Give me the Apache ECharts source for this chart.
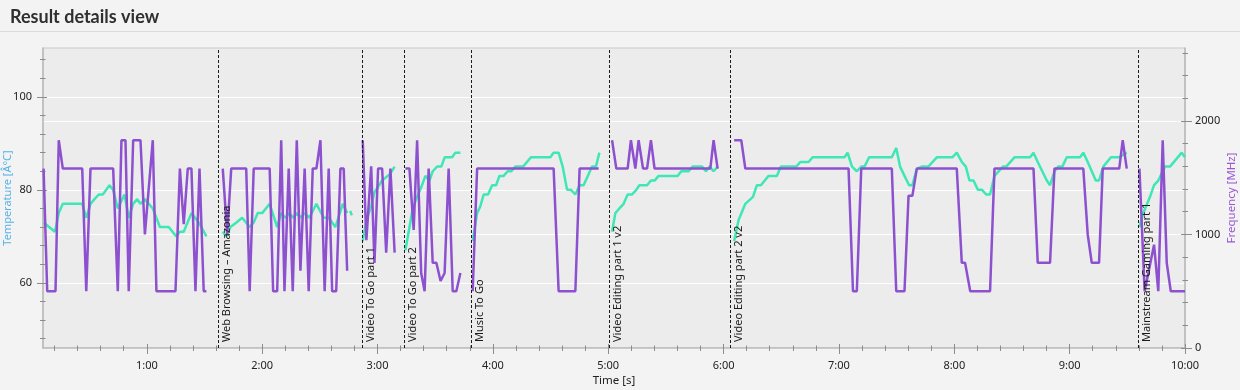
<!DOCTYPE html>
<html>
<head>
<meta charset="utf-8">
<script src="https://cdn.jsdelivr.net/npm/echarts@6/dist/echarts.min.js"></script>
<style>
html,body{margin:0;padding:0;background:#f3f3f3;}
#chart{width:1240px;height:390px;}
</style>
</head>
<body>
<div id="chart"></div>
<script>
// ---- tick labels ----
const xTickSeconds = [60,120,180,240,300,360,420,480,540,600];
const xTickLabels  = ['1:00','2:00','3:00','4:00','5:00','6:00','7:00','8:00','9:00','10:00'];
const tempTicks = [60,80,100];
const freqTicks = [0,1000,2000];

// ---- test markers ----
const testNames  = ['Web Browsing \u2013 Amazonia','Video To Go part 1','Video To Go part 2','Music To Go','Video Editing part 1 v2','Video Editing part 2 v2','Mainstream Gaming part 1'];
const testStarts = [97.4,172.0,194.0,228.9,300.4,363.4,575.9];

// ---- temperature [°C] per test, [time s, value] ----
const tempIntro = [[6.3,73],[7.3,73],[12.2,71],[14.2,75],[16.3,77],[26.4,77],[28.5,74],[30.7,77],[32.8,78],[35.0,79],[37.1,79],[40.6,81],[42.5,80],[44.9,76],[48.4,79],[50.6,74],[52.9,77],[55.0,78],[56.7,77],[59.0,78],[63.1,76],[66.8,72],[71.4,72],[75.3,70],[77.2,71],[79.2,71],[83.2,75],[87.0,73],[91.0,70]];
const tempWeb = [[99.5,71],[101.3,70],[103.5,72],[106.6,73],[109.6,74],[113.5,72],[115.6,73],[117.7,75],[120.0,75],[123.9,77],[127.8,72],[129.9,75],[132.1,74],[134.2,75],[136.1,74],[138.2,75],[140.3,74],[142.1,75],[144.6,74],[148.2,77],[152.0,74],[154.6,74],[158.1,72],[161.9,77],[164.2,75]];
const tempWebTail = [[165.8,75.5],[166.6,74.5]];
const tempVideo1 = [[172.3,69],[174.2,73.5],[176.7,76.5],[178.4,79.5],[182.4,82],[186.7,83.5],[188.9,85]];
const tempVideo2 = [[194.5,67],[196.2,71],[198.3,76],[200.6,78.5],[202.7,80.5],[204.9,83],[207.0,82],[208.7,84],[211.0,85],[213.2,85],[214.9,87],[218.8,87],[220.5,88],[223.1,88]];
const tempMusic = [[229.5,69],[231.8,75],[233.5,76.5],[235.2,79],[237.5,79],[239.6,81],[241.7,81],[243.4,83],[245.6,83],[247.7,84],[249.6,84],[251.7,85],[255.7,85],[259.8,87],[269.9,87],[271.6,88],[274.2,88],[276.3,85],[278.6,80],[280.6,80],[282.9,79],[285.1,81],[287.2,81],[291.6,85],[293.6,85],[295.4,88]];
const tempEdit1 = [[302.0,71],[303.7,75],[305.8,76],[308.0,77],[310.1,79],[312.4,79],[314.6,80],[316.2,81],[320.2,81],[322.2,82],[324.1,82],[326.2,83],[336.1,83],[338.0,84],[341.8,84],[343.9,85],[348.8,85],[350.8,84],[352.7,85],[354.8,84],[356.9,85]];
const tempEdit2 = [[365.5,69],[367.8,73.5],[371.3,77],[375.3,78.5],[377.3,81],[379.4,81],[383.4,83],[387.7,83],[389.8,85],[397.8,85],[399.9,86],[404.2,86],[406.3,87],[422.9,87],[424.5,88],[426.8,85],[429.3,84],[431.6,85],[433.3,85],[435.7,87],[447.5,87],[449.8,89],[451.8,85],[454.1,83],[456.5,81],[458.2,81],[460.5,84.5],[463.1,85],[466.5,85],[470.9,87],[479.0,87],[481.3,88],[483.9,86],[486.0,85],[487.9,82],[490.0,82],[492.3,80],[494.4,80],[496.6,79],[498.6,79],[500.9,83],[505.3,85],[507.0,85],[511.3,87],[519.4,87],[521.2,88],[523.4,86],[528.1,82],[529.8,81],[532.1,84],[534.1,85],[536.2,85],[538.5,87],[545.4,87],[547.1,88],[549.4,86],[553.6,82],[555.3,82],[557.5,85],[561.5,87],[565.8,87],[569.7,88]];
const tempGaming = [[576.3,72],[578.3,75],[581.8,78.5],[583.9,81],[586.1,82],[589.6,85],[592.2,85],[598.3,88],[600,87]];

// ---- frequency [MHz] per test, [time s, value] ----
const freqIntro = [[6.3,1580],[8.2,500],[12.5,500],[14.2,1830],[16.3,1580],[26.4,1580],[28.5,500],[30.7,1580],[42.5,1580],[44.9,500],[46.8,1830],[48.9,1830],[50.6,500],[52.9,1830],[56.7,1830],[59.0,1000],[63.1,1830],[65.0,500],[74.9,500],[77.2,1580],[79.2,1090],[81.3,1580],[83.2,1580],[85.3,500],[87.4,1580],[89.6,500],[91.0,500]];
const freqWeb = [[99.5,1580],[101.8,1000],[103.9,1580],[111.7,1580],[113.5,500],[115.6,1580],[123.9,1580],[125.7,500],[127.8,500],[129.9,1830],[131.6,500],[133.8,1580],[135.9,500],[138.0,1830],[139.9,680],[142.1,1580],[144.2,500],[146.3,1580],[148.2,1580],[150.3,1830],[152.5,500],[154.6,1580],[156.4,500],[158.5,500],[160.7,1580],[162.4,1580],[164.2,680]];
const freqVideo1 = [[172.3,1830],[174.2,950],[176.7,1600],[178.4,750],[180.3,1580],[182.4,1580],[184.5,840],[186.7,1580],[188.9,840]];
const freqVideo2 = [[194.5,1580],[196.6,1580],[198.8,1040],[200.6,1830],[202.7,660],[204.5,500],[206.6,1580],[208.7,750],[210.6,750],[212.8,590],[214.9,660],[217.0,1580],[219.1,500],[221.0,500],[223.1,660]];
const freqMusic = [[229.5,500],[231.8,1580],[271.6,1580],[274.2,500],[282.9,500],[285.1,1580],[295.0,1580]];
const freqEdit1 = [[302.0,1830],[304.2,1580],[310.1,1580],[311.8,1830],[314.1,1580],[315.8,1830],[318.1,1580],[320.2,1580],[322.2,1830],[324.1,1580],[353.1,1580],[354.8,1830],[356.9,1580]];
const freqEdit2 = [[365.5,1830],[369.2,1830],[371.3,1580],[425.0,1580],[427.3,500],[429.3,500],[431.6,1580],[447.5,1580],[449.8,500],[454.1,500],[456.2,1340],[458.2,1340],[460.5,1580],[481.3,1580],[483.9,750],[485.6,750],[488.3,500],[498.6,500],[500.9,1580],[521.2,1580],[523.4,750],[529.8,750],[532.1,1580],[547.1,1580],[549.4,1000],[551.5,750],[555.3,750],[557.2,1580],[565.8,1580],[567.6,1830],[569.7,1580]];
const freqGaming = [[576.3,1580],[579.0,500],[583.9,910],[586.1,500],[588.4,1830],[590.5,750],[592.6,500],[600,500]];

const tempSegments = [tempIntro,tempWeb,tempWebTail,tempVideo1,tempVideo2,tempMusic,tempEdit1,tempEdit2,tempGaming];
const freqSegments = [freqIntro,freqWeb,freqVideo1,freqVideo2,freqMusic,freqEdit1,freqEdit2,freqGaming];

// ---- styling / layout ----
const X_MIN = 6, X_MAX = 600;
const T_MIN = 46, T_MAX = 110.5;
const F_MIN = 0, F_MAX = 2642;
const TEAL = '#3fe6b6', PURPLE = '#8d50cf';
const AXIS_LINE = '#b9b9b9', TICK = '#8c8c8c';
const FONT = '"Noto Sans", "Open Sans", sans-serif';

function range(a, b, step){ const r=[]; for(let v=a; v<=b+1e-9; v+=step) r.push(v); return r; }
const xMinor = range(12, 600, 12);
const tMinor = range(48, 108, 4);
const fMinor = range(200, 2600, 200);

function tickAxes(base, majors, minors){
  const hidden = {show:false};
  const mk = (vals, inside, len) => Object.assign({}, base, {
    name: '', axisLine: hidden, axisLabel: {show:false, customValues: vals}, splitLine: hidden,
    axisTick: {show:true, inside: inside, length: len, customValues: vals, lineStyle:{color:TICK, width:1}}
  });
  return [mk(majors, true, 4), mk(minors, true, 2.5), mk(minors, false, 3)];
}

const xBase = {type:'value', min:X_MIN, max:X_MAX, position:'bottom', gridIndex:0};
const xMain = Object.assign({}, xBase, {
  name:'Time [s]', nameLocation:'middle', nameGap:27, nameMoveOverlap:false,
  nameTextStyle:{color:'#222', fontSize:11.5, fontFamily:FONT},
  axisLine:{show:true, lineStyle:{color:AXIS_LINE, width:1.5}},
  axisTick:{show:true, length:6, customValues:xTickSeconds, lineStyle:{color:TICK}},
  axisLabel:{show:true, customValues:xTickSeconds, margin:12, color:'#222', fontSize:11, fontFamily:FONT,
    formatter: v => { const i = xTickSeconds.indexOf(Math.round(v)); return i>=0 ? xTickLabels[i] : ''; }},
  splitLine:{show:false}
});

const tBase = {type:'value', min:T_MIN, max:T_MAX, position:'left', gridIndex:0};
const tMain = Object.assign({}, tBase, {
  name:'Temperature [\u00C2\u00B0C]', nameLocation:'middle', nameGap:30, nameRotate:90, nameMoveOverlap:false,
  nameTextStyle:{color:'#55b2ea', fontSize:11, fontFamily:FONT},
  axisLine:{show:true, lineStyle:{color:AXIS_LINE, width:1.5}},
  axisTick:{show:true, length:6, customValues:tempTicks, lineStyle:{color:TICK}},
  axisLabel:{show:true, customValues:tempTicks, margin:11, color:'#222', fontSize:11, fontFamily:FONT,
    formatter: v => String(v)},
  splitLine:{show:true, lineStyle:{color:'#ffffff', width:1.2}}
});

const fBase = {type:'value', min:F_MIN, max:F_MAX, position:'right', gridIndex:0};
const fMain = Object.assign({}, fBase, {
  name:'Frequency [MHz]', nameLocation:'middle', nameGap:41, nameRotate:90, nameMoveOverlap:false,
  nameTextStyle:{color:'#9b58d2', fontSize:11.5, fontFamily:FONT},
  axisLine:{show:true, lineStyle:{color:AXIS_LINE, width:1.5}},
  axisTick:{show:true, length:7, customValues:freqTicks, lineStyle:{color:TICK}},
  axisLabel:{show:true, customValues:freqTicks, margin:10, color:'#222', fontSize:11, fontFamily:FONT,
    formatter: v => String(v)},
  splitLine:{show:true, lineStyle:{color:'#ffffff', width:1.2}}
});

const xAxes = [xMain].concat(tickAxes(xBase, xTickSeconds, xMinor));
const yAxes = [tMain].concat(tickAxes(tBase, tempTicks, tMinor), [fMain], tickAxes(fBase, freqTicks, fMinor));
const F_AXIS_INDEX = 4;

const series = [];
tempSegments.forEach(seg => series.push({
  type:'line', data:seg, xAxisIndex:0, yAxisIndex:0, showSymbol:false, symbol:'none',
  lineStyle:{color:TEAL, width:2.5}, itemStyle:{color:TEAL}, silent:true, z:2, animation:false
}));
freqSegments.forEach(seg => series.push({
  type:'line', data:seg, xAxisIndex:0, yAxisIndex:F_AXIS_INDEX, showSymbol:false, symbol:'none',
  lineStyle:{color:PURPLE, width:2.5}, itemStyle:{color:PURPLE}, silent:true, z:3, animation:false
}));
series.push({
  type:'line', data:[], xAxisIndex:0, yAxisIndex:0, silent:true, z:4, animation:false,
  markLine:{
    silent:true, symbol:['none','none'], animation:false,
    lineStyle:{color:'#1a1a1a', type:[3,2], width:1},
    label:{show:true, position:'insideStartBottom', formatter: p => p.name, color:'#1a1a1a', fontSize:11, fontFamily:FONT, distance:[6,3]},
    emphasis:{disabled:true},
    data: testStarts.map((t,i) => ({xAxis:t, name:testNames[i]}))
  }
});

const chart = echarts.init(document.getElementById('chart'), null, {renderer:'canvas'});
chart.setOption({
  animation:false,
  backgroundColor:'#f3f3f3',
  title:{text:'Result details view', left:5, top:3,
    textStyle:{fontFamily:'Lato, "Noto Sans", sans-serif', fontWeight:'bold', fontSize:18, color:'#2f2f2f'}},
  graphic:[{type:'line', shape:{x1:0, y1:31.5, x2:1240, y2:31.5}, style:{stroke:'#dcdcdc', lineWidth:1}, silent:true}],
  grid:{left:43, right:55, top:48, bottom:42, show:true, backgroundColor:'#ececec', borderColor:'#c9c9c9', borderWidth:1,
    containLabel:false, outerBoundsMode:'none'},
  xAxis:xAxes,
  yAxis:yAxes,
  series:series
});
</script>
</body>
</html>
